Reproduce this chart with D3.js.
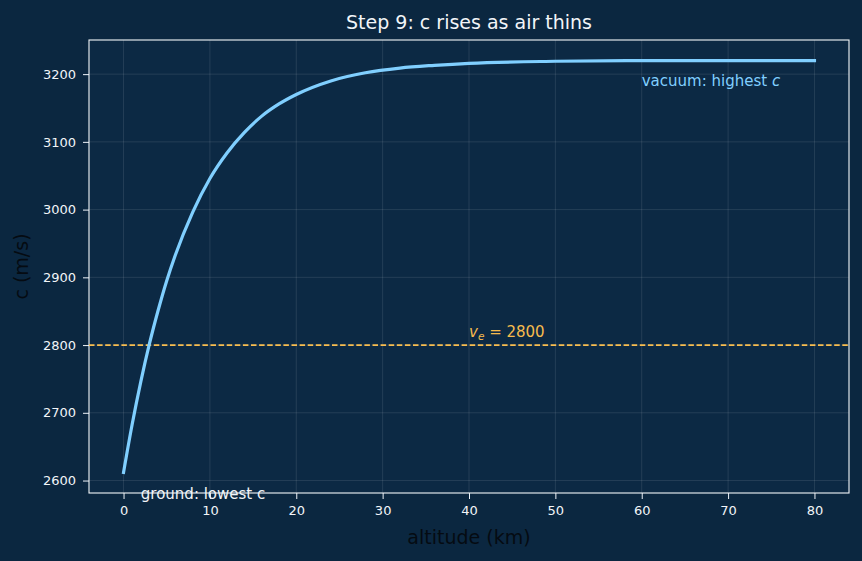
<!DOCTYPE html>
<html>
<head>
<meta charset="utf-8">
<script src="https://cdn.jsdelivr.net/npm/d3@7"></script>
<style>
  html, body { margin: 0; padding: 0; background: #0b2740; }
  svg { display: block; font-family: "DejaVu Sans", sans-serif; }
</style>
</head>
<body>
<div id="chart"></div>
<script>
// altitude (km) and effective exhaust speed c (m/s)
const altitudeKm = [0, 1, 2, 3, 4, 5, 6, 8, 10, 12, 14, 16, 18, 20, 24, 28, 32, 36, 40, 50, 60, 70, 80];
const cValues = [2612, 2683, 2746, 2802, 2851, 2895, 2933, 2996, 3046, 3084, 3114, 3138, 3156, 3170, 3190, 3202, 3209, 3213, 3216, 3219, 3220, 3220, 3220];
const xTicks = [0, 10, 20, 30, 40, 50, 60, 70, 80];
const yTicks = [2600, 2700, 2800, 2900, 3000, 3100, 3200];
const veValue = 2800;

const W = 862, H = 561;
const margin = { top: 40, right: 13, bottom: 68, left: 89 };
const width = W - margin.left - margin.right;
const height = H - margin.top - margin.bottom;

const svg = d3.select("#chart").append("svg")
    .attr("width", W)
    .attr("height", H);

svg.append("rect").attr("width", W).attr("height", H).attr("fill", "#0b2740");

const g = svg.append("g")
    .attr("transform", `translate(${margin.left},${margin.top})`);

// scales (matplotlib-like 5% padding)
const x = d3.scaleLinear().domain([-4, 84]).range([0, width]);
const y = d3.scaleLinear().domain([2581.6, 3250.4]).range([height, 0]);

g.append("rect")
    .attr("width", width)
    .attr("height", height)
    .attr("fill", "#0c2944");

// grid
g.append("g").selectAll("line").data(xTicks).join("line")
    .attr("x1", d => x(d)).attr("x2", d => x(d))
    .attr("y1", 0).attr("y2", height)
    .attr("stroke", "rgba(255,255,255,0.13)")
    .attr("stroke-width", 0.8);
g.append("g").selectAll("line").data(yTicks).join("line")
    .attr("y1", d => y(d)).attr("y2", d => y(d))
    .attr("x1", 0).attr("x2", width)
    .attr("stroke", "rgba(255,255,255,0.13)")
    .attr("stroke-width", 0.8);

// axes
const xAxis = g.append("g")
    .attr("transform", `translate(0,${height})`)
    .call(d3.axisBottom(x).tickValues(xTicks).tickSize(6).tickPadding(7).tickFormat(d3.format("d")));
const yAxis = g.append("g")
    .call(d3.axisLeft(y).tickValues(yTicks).tickSize(6).tickPadding(7).tickFormat(d3.format("d")));

[xAxis, yAxis].forEach(ax => {
    ax.select(".domain").remove();
    ax.selectAll(".tick line").attr("stroke", "#eef3f8").attr("stroke-width", 1);
    ax.selectAll(".tick text")
        .attr("fill", "#f2f5f8")
        .style("font-family", "DejaVu Sans")
        .style("font-size", "13px");
});

// frame
g.append("rect")
    .attr("width", width)
    .attr("height", height)
    .attr("fill", "none")
    .attr("stroke", "#f4f7fa")
    .attr("stroke-width", 1.1);

// v_e reference line
g.append("line")
    .attr("x1", 0).attr("x2", width)
    .attr("y1", y(veValue)).attr("y2", y(veValue))
    .attr("stroke", "#f9bd4f")
    .attr("stroke-width", 1.8)
    .attr("stroke-dasharray", "5.5,2.6");

// c(h) curve
const line = d3.line()
    .x((d, i) => x(altitudeKm[i]))
    .y(d => y(d))
    .curve(d3.curveMonotoneX);

g.append("path")
    .datum(cValues)
    .attr("d", line)
    .attr("fill", "none")
    .attr("stroke", "#80cfff")
    .attr("stroke-width", 3.2)
    .attr("stroke-linecap", "square");

// annotations
const ve = g.append("text")
    .attr("x", x(40))
    .attr("y", y(2812))
    .attr("fill", "#f7bb4d")
    .style("font-size", "15px");
ve.append("tspan").attr("font-style", "italic").text("v");
ve.append("tspan").attr("font-style", "italic").attr("font-size", "10.5px").attr("dy", 3).text("e");
ve.append("tspan").attr("dy", -3).text(" = 2800");

const vac = g.append("text")
    .attr("x", x(60))
    .attr("y", y(3183))
    .attr("fill", "#80cfff")
    .style("font-size", "15px");
vac.append("tspan").text("vacuum: highest ");
vac.append("tspan").attr("font-style", "italic").text("c");

g.append("text")
    .attr("x", x(2))
    .attr("y", y(2573))
    .attr("fill", "#f2f5f8")
    .style("font-size", "15px")
    .text("ground: lowest c");

// title and labels
svg.append("text")
    .attr("x", margin.left + width / 2)
    .attr("y", 29)
    .attr("text-anchor", "middle")
    .attr("fill", "#f2f5f8")
    .style("font-size", "19px")
    .text("Step 9: c rises as air thins");

svg.append("text")
    .attr("x", margin.left + width / 2)
    .attr("y", 544)
    .attr("text-anchor", "middle")
    .attr("fill", "#050b12")
    .style("font-size", "19px")
    .text("altitude (km)");

svg.append("text")
    .attr("transform", `translate(28,${margin.top + height / 2}) rotate(-90)`)
    .attr("text-anchor", "middle")
    .attr("fill", "#050b12")
    .style("font-size", "19px")
    .text("c (m/s)");
</script>
</body>
</html>
